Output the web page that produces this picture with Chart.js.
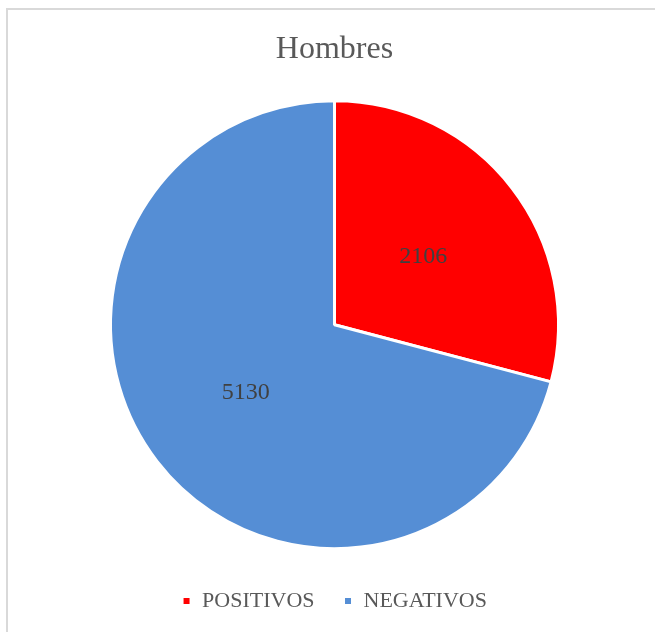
<!DOCTYPE html>
<html>
<head>
<meta charset="utf-8">
<script src="https://cdn.jsdelivr.net/npm/chart.js@4"></script>
<style>
  body { margin: 0; background: #fff; }
  #frame {
    position: absolute; left: 6px; top: 8px; width: 700px; height: 700px;
    border-left: 2px solid #d9d9d9; border-top: 2px solid #d9d9d9;
  }
  #myChart { position: absolute; left: 0; top: 0; }
</style>
</head>
<body>
<div id="frame"></div>
<canvas id="myChart" width="655" height="632"></canvas>
<script>
const categories = ['POSITIVOS', 'NEGATIVOS']
const values = [2106, 5130]
const colors = ['#ff0000', '#558ed5']

// writes each slice's value in the middle of the slice
const sliceLabels = {
  id: 'sliceLabels',
  afterDatasetsDraw(chart) {
    const c = chart.ctx
    const meta = chart.getDatasetMeta(0)
    c.save()
    c.font = '24px "Liberation Serif"'
    c.fillStyle = '#404040'
    c.textAlign = 'center'
    c.textBaseline = 'middle'
    meta.data.forEach((arc, i) => {
      const p = arc.getCenterPoint()
      c.fillText(String(values[i]), p.x, p.y)
    })
    c.restore()
  }
}

const ctx = document.getElementById('myChart')
new Chart(ctx, {
  type: 'pie',
  data: {
    labels: [...categories],
    datasets: [{
      data: [...values],
      backgroundColor: colors,
      borderColor: '#ffffff',
      borderWidth: 3
    }]
  },
  options: {
    responsive: false,
    animation: false,
    layout: { padding: { left: 109, right: 95, top: 0, bottom: 10 } },
    plugins: {
      title: {
        display: true,
        text: 'Hombres',
        color: '#595959',
        font: { family: '"Liberation Serif"', size: 32, weight: 'normal' },
        padding: { top: 30, bottom: 20 }
      },
      legend: {
        position: 'bottom',
        labels: {
          color: '#595959',
          font: { family: '"Liberation Serif"', size: 22 },
          boxWidth: 9,
          boxHeight: 9,
          padding: 29
        }
      },
      tooltip: { enabled: false }
    }
  },
  plugins: [sliceLabels]
})
</script>
</body>
</html>
